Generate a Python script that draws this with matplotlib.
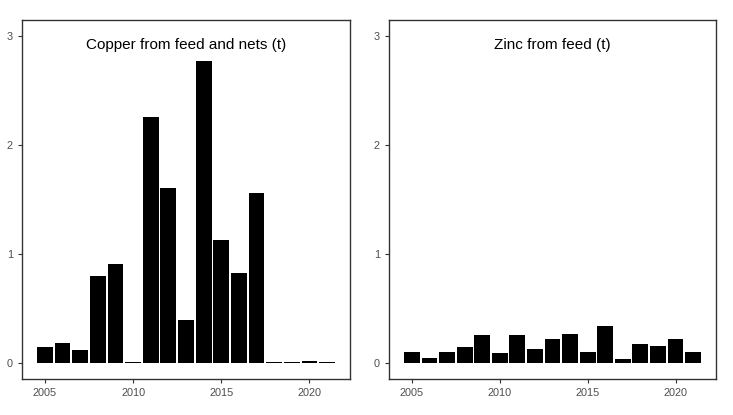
import matplotlib.pyplot as plt
import numpy as np

plt.rcParams['font.family'] = ['Liberation Sans', 'DejaVu Sans']

years = np.arange(2005, 2022)
copper = [0.15, 0.18, 0.12, 0.80, 0.91, 0.005, 2.26, 1.61, 0.39, 2.77,
          1.13, 0.83, 1.56, 0.005, 0.005, 0.015, 0.005]
zinc = [0.10, 0.046, 0.10, 0.15, 0.26, 0.095, 0.26, 0.125, 0.22, 0.27,
        0.10, 0.34, 0.04, 0.17, 0.155, 0.22, 0.10]
titles = ["Copper from feed and nets (t)", "Zinc from feed (t)"]

fig = plt.figure(figsize=(7.33, 4.15), dpi=100)
ax1 = fig.add_axes([22 / 733, 36 / 415, 328 / 733, 359 / 415])
ax2 = fig.add_axes([389 / 733, 36 / 415, 327 / 733, 359 / 415])

for ax, vals, title in zip([ax1, ax2], [copper, zinc], titles):
    ax.bar(years, vals, width=0.9, color="black", linewidth=0)
    ax.set_xlim(2003.7, 2022.3)
    ax.set_ylim(-0.147, 3.147)
    ax.set_xticks([2005, 2010, 2015, 2020])
    ax.set_yticks([0, 1, 2, 3])
    ax.tick_params(colors="#333333", labelcolor="#4d4d4d", labelsize=7.8, length=3, width=0.8)
    for s in ax.spines.values():
        s.set_color("#333333")
        s.set_linewidth(1.0)
    ax.text(0.5, 0.93, title, transform=ax.transAxes, ha="center", va="center",
            fontsize=11, color="black")

fig.savefig("out.png", dpi=100)
